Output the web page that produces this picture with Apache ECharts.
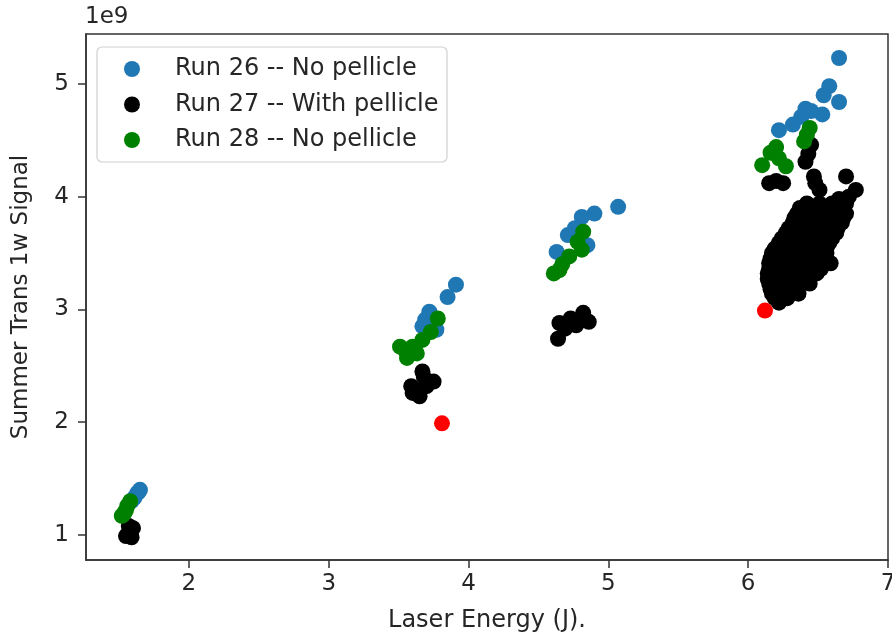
<!DOCTYPE html>
<html>
<head>
<meta charset="utf-8">
<script src="https://cdn.jsdelivr.net/npm/echarts@6/dist/echarts.min.js"></script>
<style>html,body{margin:0;padding:0;background:#fff}#c{width:892px;height:636px}</style>
</head>
<body>
<div id="c"></div>
<script>
const xTicks = [2, 3, 4, 5, 6, 7];
const yTicks = [1, 2, 3, 4, 5];
const seriesNames = ['Run 26 -- No pellicle', 'Run 27 -- With pellicle', 'Run 28 -- No pellicle'];

const run26 = [
  [1.65,1.40],[1.63,1.37],[1.61,1.33],[1.59,1.30],[1.64,1.38],
  [3.91,3.22],[3.85,3.11],[3.72,2.98],[3.69,2.91],[3.77,2.82],[3.67,2.85],
  [5.07,3.91],[4.90,3.85],[4.81,3.82],[4.71,3.66],[4.63,3.51],[4.85,3.57],[4.76,3.72],
  [6.65,5.23],[6.58,4.98],[6.65,4.84],[6.54,4.90],[6.53,4.73],[6.41,4.78],[6.32,4.64],[6.22,4.59],[6.38,4.71],[6.45,4.76]
];
const run27 = [
  [1.56,1.00],[1.58,1.02],[1.60,1.06],[1.57,1.08],[1.55,0.99],[1.59,0.98],[1.57,1.01],
  [3.67,2.45],[3.75,2.36],[3.59,2.32],[3.65,2.23],[3.60,2.26],[3.70,2.32],[3.68,2.40],[3.63,2.28],
  [4.82,2.97],[4.86,2.89],[4.73,2.92],[4.65,2.88],[4.64,2.74],[4.77,2.86],[4.69,2.83],
  [6.15,4.12],[6.25,4.12],[6.41,4.31],[6.45,4.46],[6.47,4.18],[6.51,4.06],[6.70,4.18],[6.77,4.06],[6.20,4.14],[6.43,4.38],[6.48,4.12],
  [6.72,4.00],[6.65,3.98],
  [6.42,3.94],[6.51,3.94],[6.60,3.94],[6.70,3.94],
  [6.37,3.90],[6.46,3.90],[6.56,3.90],[6.65,3.90],
  [6.35,3.85],[6.44,3.85],[6.53,3.85],[6.63,3.85],[6.70,3.85],
  [6.33,3.81],[6.41,3.81],[6.50,3.81],[6.60,3.81],[6.68,3.81],
  [6.32,3.77],[6.39,3.77],[6.48,3.77],[6.58,3.77],[6.67,3.77],
  [6.29,3.72],[6.36,3.72],[6.46,3.72],[6.55,3.72],[6.64,3.72],
  [6.27,3.68],[6.34,3.68],[6.44,3.68],[6.53,3.68],[6.63,3.68],
  [6.24,3.63],[6.32,3.63],[6.41,3.63],[6.51,3.63],[6.60,3.63],
  [6.22,3.59],[6.29,3.59],[6.39,3.59],[6.48,3.59],[6.58,3.59],
  [6.19,3.54],[6.28,3.54],[6.37,3.54],[6.47,3.54],[6.56,3.54],
  [6.17,3.50],[6.27,3.50],[6.36,3.50],[6.46,3.50],[6.56,3.50],
  [6.16,3.45],[6.25,3.45],[6.35,3.45],[6.44,3.45],[6.53,3.45],
  [6.15,3.41],[6.25,3.41],[6.34,3.41],[6.44,3.41],[6.53,3.41],[6.59,3.41],
  [6.15,3.36],[6.23,3.36],[6.33,3.36],[6.42,3.36],[6.52,3.36],
  [6.14,3.32],[6.22,3.32],[6.32,3.32],[6.41,3.32],[6.49,3.32],
  [6.14,3.27],[6.23,3.27],[6.32,3.27],[6.41,3.27],
  [6.15,3.23],[6.25,3.23],[6.34,3.23],[6.44,3.23],
  [6.16,3.18],[6.25,3.18],[6.33,3.18],
  [6.17,3.14],[6.27,3.14],[6.36,3.14],
  [6.19,3.10],[6.28,3.10],
  [6.22,3.06]
];
const run28 = [
  [1.58,1.30],[1.56,1.26],[1.55,1.22],[1.53,1.18],[1.52,1.17],[1.54,1.20],
  [3.78,2.92],[3.73,2.80],[3.67,2.73],[3.60,2.67],[3.51,2.67],[3.56,2.57],[3.63,2.61],[3.55,2.63],
  [4.82,3.69],[4.81,3.53],[4.72,3.47],[4.67,3.40],[4.61,3.32],[4.65,3.35],[4.78,3.60],
  [6.44,4.61],[6.40,4.49],[6.20,4.44],[6.16,4.39],[6.10,4.28],[6.27,4.27],[6.22,4.34],[6.42,4.55]
];
const redPoints = [[3.81,1.99],[6.12,2.99]];

const FONT = 'DejaVu Sans';
const TXT = '#262626';
const FS = 23;
const FSH = 24;
const chart = echarts.init(document.getElementById('c'), null, {renderer: 'canvas'});
const sym = 16;
chart.setOption({
  animation: false,
  backgroundColor: '#fff',
  textStyle: {fontFamily: FONT},
  grid: {left: 86, top: 34, right: 4, bottom: 76, outerBoundsMode: 'none', containLabel: false, show: true, borderColor: '#333', borderWidth: 1.5, backgroundColor: 'transparent'},
  graphic: [
    {type: 'rect', shape: {x: 97, y: 47, width: 350, height: 115, r: 5}, style: {fill: 'rgba(255,255,255,0.8)', stroke: '#d0d0d0', lineWidth: 1.2}, z: 5},
    {type: 'text', left: 85, top: 6, style: {text: '1e9', font: FS + 'px "DejaVu Sans"', fill: TXT}}
  ],
  legend: {
    data: seriesNames,
    orient: 'vertical',
    left: 124, top: 57,
    padding: 0,
    itemWidth: 76, itemHeight: 16, itemGap: 11.5,
    icon: 'circle',
    textStyle: {fontFamily: FONT, fontSize: FSH, color: TXT, lineHeight: 22},
    z: 10
  },
  xAxis: {
    type: 'value', min: 1.264, max: 7.0,
    name: 'Laser Energy (J).', nameLocation: 'middle', nameGap: 49,
    nameTextStyle: {fontFamily: FONT, fontSize: FSH, color: TXT},
    splitLine: {show: false},
    axisLine: {show: true, onZero: false, lineStyle: {color: '#333', width: 1.5}},
    axisTick: {show: true, length: 8, lineStyle: {color: '#333', width: 1.5}, customValues: xTicks},
    axisLabel: {fontFamily: FONT, fontSize: FS, color: TXT, margin: 13, customValues: xTicks, formatter: v => String(v)}
  },
  yAxis: {
    type: 'value', min: 0.778, max: 5.443,
    name: 'Summer Trans 1w Signal', nameLocation: 'middle', nameGap: 53,
    nameTextStyle: {fontFamily: FONT, fontSize: FS, color: TXT},
    splitLine: {show: false},
    axisLine: {show: true, onZero: false, lineStyle: {color: '#333', width: 1.5}},
    axisTick: {show: true, length: 8, lineStyle: {color: '#333', width: 1.5}, customValues: yTicks},
    axisLabel: {fontFamily: FONT, fontSize: FS, color: TXT, margin: 17, customValues: yTicks, formatter: v => String(v)}
  },
  series: [
    {name: seriesNames[0], type: 'scatter', data: run26, symbolSize: sym, itemStyle: {color: '#1f77b4', opacity: 1}, z: 2},
    {name: seriesNames[1], type: 'scatter', data: run27, symbolSize: sym, itemStyle: {color: '#000000', opacity: 1}, z: 2},
    {name: seriesNames[2], type: 'scatter', data: run28, symbolSize: sym, itemStyle: {color: '#008000', opacity: 1}, z: 2},
    {name: 'red', type: 'scatter', data: redPoints, symbolSize: sym, itemStyle: {color: '#ff0000', opacity: 1}, z: 2}
  ]
});
</script>
</body>
</html>
